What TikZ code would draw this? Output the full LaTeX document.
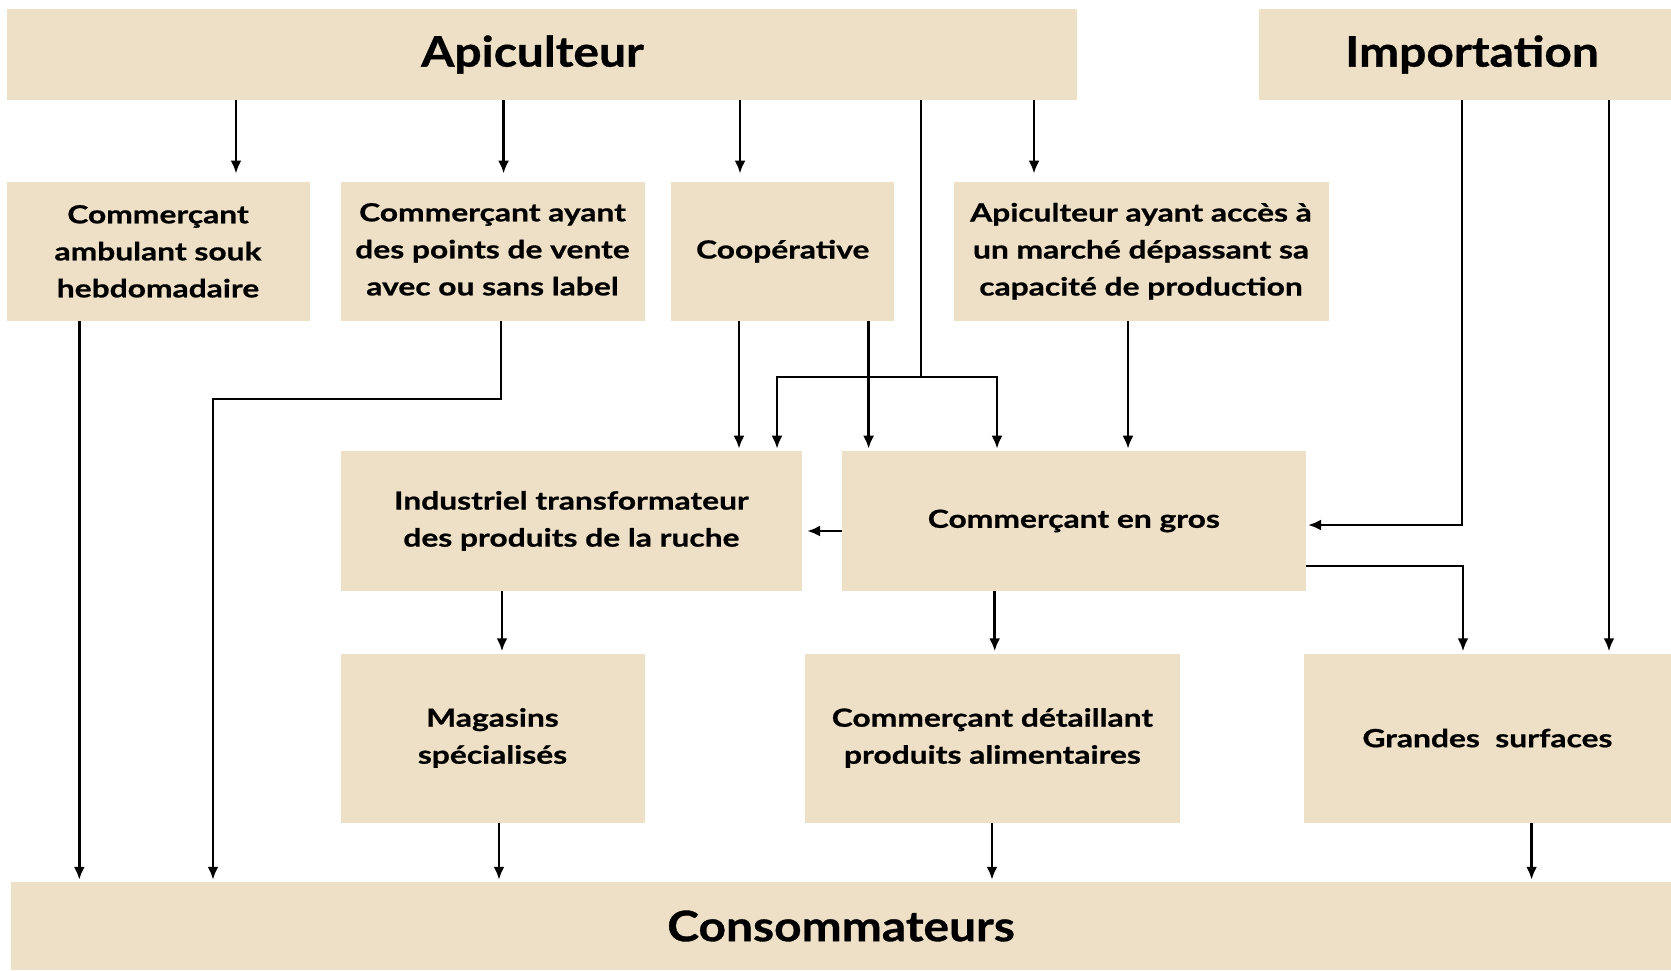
\documentclass[tikz,border=0pt]{standalone}
\usepackage{fontspec}
\setmainfont{Lato}[FakeStretch=1.27, BoldFeatures={FakeBold=0.8}]
\newfontfamily\titlefont{Lato}[FakeStretch=1.14, BoldFeatures={FakeBold=0.8}]
\usetikzlibrary{positioning,calc,arrows,arrows.meta}
\definecolor{beige}{RGB}{238,224,199}
\tikzset{font=\bfseries\fontsize{25}{37}\selectfont}

\begin{document}
\begin{tikzpicture}[x=1pt, y=-1pt]
	\useasboundingbox (0,0) rectangle (1671,970);
	\begin{scope}
		\tikzstyle{every node}=[align=center, inner sep=0pt]
		\tikzstyle{box}=[fill=beige]
		\tikzstyle{big}=[font=\titlefont\bfseries\fontsize{42}{50}\selectfont]
		\tikzstyle{arr}=[-{Latex[length=13pt,width=11pt]}, line width=2.7pt, shorten >=2pt]
		\tikzstyle{seg}=[line width=2.7pt]

		% top
		\node[box, big, minimum width=1070, minimum height=91] (api) at (541.5, 54.5) {\hspace*{-18pt}Apiculteur};
		\node[box, big, minimum width=412, minimum height=91] (imp) at (1465, 54.5) {\hspace*{14pt}Importation};

		% second row
		\node[box, minimum width=303, minimum height=139] (amb) at (158, 251.3) {Commerçant\\ambulant souk\\hebdomadaire};
		\node[box, minimum width=304, minimum height=139] (cay) at (492.5, 251.3) {Commerçant ayant\\des points de vente\\avec ou sans label\vspace*{4pt}};
		\node[box, minimum width=223, minimum height=139] (coop) at (782.7, 251.3) {Coopérative};
		\node[box, minimum width=375, minimum height=139] (acc) at (1141, 251.3) {Apiculteur ayant accès à\\un marché dépassant sa\\capacité de production};

		% middle
		\node[box, minimum width=461, minimum height=140] (ind) at (571.4, 520.9) {Industriel transformateur\\des produits de la ruche};
		\node[box, minimum width=464, minimum height=140] (gros) at (1073.8, 520.9) {Commerçant en gros};

		% fourth row
		\node[box, minimum width=304, minimum height=169] (mag) at (492.5, 738) {Magasins\\spécialisés};
		\node[box, minimum width=375, minimum height=169] (det) at (992.4, 738) {Commerçant détaillant\\produits alimentaires};
		\node[box, minimum width=367, minimum height=169] (gs) at (1487.4, 738) {Grandes\ \ surfaces};

		% bottom
		\node[box, big, minimum width=1660, minimum height=88] (cons) at (841, 926) {Consommateurs};

		\coordinate (split) at (921, 377);

		\draw[arr, shorten >=8pt] (api.south -| 236,0) -- (amb.north -| 236,0);
		\draw[arr, shorten >=8pt] (api.south -| 503.6,0) -- (cay.north -| 503.6,0);
		\draw[arr, shorten >=8pt] (api.south -| 740,0) -- (coop.north -| 740,0);
		\draw[arr, shorten >=8pt] (api.south -| 1034,0) -- (acc.north -| 1034,0);
		\draw[seg] (api.south -| split) -- (split);
		\draw[arr] (split) -| (ind.north -| 777,0);
		\draw[arr] (split) -| (gros.north -| 997,0);

		\draw[arr] (coop.south -| 739,0) -- (ind.north -| 739,0);
		\draw[arr] (coop.south -| 868.6,0) -- (gros.north -| 868.6,0);
		\draw[arr] (acc.south -| 1128,0) -- (gros.north -| 1128,0);

		\draw[arr] (imp.south -| 1462,0) |- (gros.east |- 0,525);
		\draw[arr] (imp.south -| 1609,0) -- (gs.north -| 1609,0);
		\draw[arr] (gros.east |- 0,566) -| (gs.north -| 1463,0);
		\draw[arr, shorten >=5pt] (gros.west |- 0,531) -- (ind.east |- 0,531);

		\draw[arr] (ind.south -| 502,0) -- (mag.north -| 502,0);
		\draw[arr] (gros.south -| 994.7,0) -- (det.north -| 994.7,0);

		\draw[arr] (amb.south -| 79.3,0) -- (cons.north -| 79.3,0);
		\draw[arr] (cay.south -| 501,0) |- (213,399) -- (cons.north -| 213,0);
		\draw[arr] (mag.south -| 499,0) -- (cons.north -| 499,0);
		\draw[arr] (det.south -| 992,0) -- (cons.north -| 992,0);
		\draw[arr] (gs.south -| 1531.6,0) -- (cons.north -| 1531.6,0);
	\end{scope}
\end{tikzpicture}
\end{document}
